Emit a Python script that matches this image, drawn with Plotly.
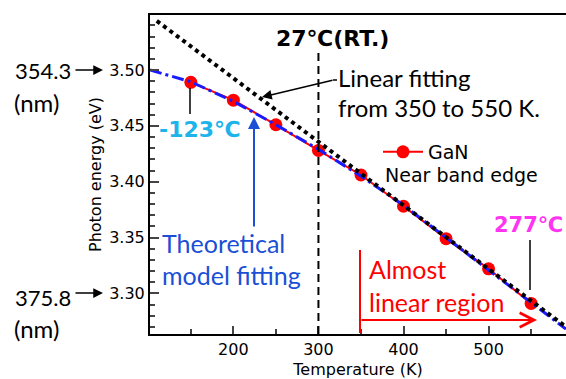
import plotly.graph_objects as go

# ---------------- data ----------------
temp_K = [150, 200, 250, 300, 350, 400, 450, 500, 550]
gan_energy_eV = [3.489, 3.473, 3.451, 3.428, 3.406, 3.378, 3.349, 3.322, 3.291]

model_T = [102, 150, 200, 250, 300, 350, 400, 450, 500, 550, 591]
model_E = [3.500, 3.4895, 3.472, 3.451, 3.429, 3.405, 3.379, 3.350, 3.321, 3.292, 3.268]

linfit_T = [110, 591]
linfit_E = [3.544, 3.270]

x_ticks = [200, 300, 400, 500]
y_ticks = [3.30, 3.35, 3.40, 3.45, 3.50]

# ---------------- layout geometry ----------------
W, H = 566, 379
L, R, T, B = 150, 566, 15, 334
X0, X1 = 102, 591
Y0, Y1 = 3.2636, 3.5493


def px(p):
    return (p - L) / (R - L)


def py(p):
    return (B - p) / (B - T)


ARIAL = "DejaVu Sans"
CALIBRI = "Lato"

fig = go.Figure()

fig.add_trace(go.Scatter(
    x=temp_K, y=gan_energy_eV, mode="lines+markers", name="GaN",
    line=dict(color="#ff0000", width=2),
    marker=dict(color="#ff0000", size=13),
    showlegend=True,
))
fig.add_trace(go.Scatter(
    x=model_T, y=model_E, mode="lines", showlegend=False,
    line=dict(color="#1a1aff", width=3, dash="12px,4px,3px,4px"),
))
fig.add_trace(go.Scatter(
    x=linfit_T, y=linfit_E, mode="lines", showlegend=False,
    line=dict(color="#000000", width=4, dash="4px,4px"),
))

shapes = [
    # RT vertical dashed line
    dict(type="line", xref="x", yref="paper", x0=300, x1=300, y0=0, y1=py(52),
         line=dict(color="black", width=2, dash="8px,5px")),
    # -123C pointer
    dict(type="line", xref="paper", yref="paper", x0=px(190), x1=px(190), y0=py(88), y1=py(114),
         line=dict(color="black", width=1.5)),
    # 277C pointer
    dict(type="line", xref="paper", yref="paper", x0=px(530), x1=px(530), y0=py(240), y1=py(290),
         line=dict(color="black", width=1.5)),
    # red vertical line (start of linear region)
    dict(type="line", xref="paper", yref="paper", x0=px(360), x1=px(360), y0=py(250), y1=py(333),
         line=dict(color="#ff0000", width=2)),
    # connector to "Linear fitting"
    dict(type="line", xref="paper", yref="paper", x0=px(333), x1=px(337), y0=py(80), y1=py(80),
         line=dict(color="black", width=1.5)),
]

ann = []


def text(x, y, s, size, color="black", font=CALIBRI, bold=False, xanchor="left"):
    ann.append(dict(xref="paper", yref="paper", x=px(x), y=py(y), text=("<b>%s</b>" % s) if bold else s,
                    showarrow=False, xanchor=xanchor, yanchor="middle",
                    font=dict(family=font, size=size, color=color)))


def arrow(x_tip, y_tip, x_tail, y_tail, color, width, head, size):
    ann.append(dict(xref="paper", yref="paper", x=px(x_tip), y=py(y_tip), text="",
                    showarrow=True, axref="pixel", ayref="pixel",
                    ax=x_tail - x_tip, ay=y_tail - y_tip,
                    arrowcolor=color, arrowwidth=width, arrowhead=head, arrowsize=size,
                    standoff=0, startstandoff=0))


text(332, 38, "27℃(RT.)", 22, font=ARIAL, bold=True, xanchor="center")
text(336, 77, "Linear fitting", 24)
text(336, 108, "from 350 to 550 K.", 24)
arrow(262, 97, 334, 80, "black", 1.5, 2, 1.3)

text(157, 129, "-123℃", 22, color="#1eb4ea", font=ARIAL, bold=True)
text(160, 243, "Theoretical", 25, color="#1a4fd6")
text(160, 275, "model fitting", 25, color="#1a4fd6")
arrow(254, 117, 254, 228, "#1a4fd6", 2, 2, 1.2)

text(565, 225, "277℃", 21, color="#ff33f0", font=ARIAL, bold=True, xanchor="right")
text(367, 269, "Almost", 25, color="#ff0000")
text(367, 302, "linear region", 25, color="#ff0000")
arrow(537, 320, 360, 320, "#ff0000", 2, 5, 1.4)

text(383, 175, "Near band edge", 19, font=ARIAL)

text(13, 70, "354.3", 22)
text(12, 102, "(nm)", 24)
arrow(103, 70, 74, 70, "black", 1.5, 2, 1.3)
text(13, 297, "375.8", 22)
text(12, 328, "(nm)", 24)
arrow(103, 293, 74, 293, "black", 1.5, 2, 1.3)

fig.update_layout(
    width=W, height=H,
    margin=dict(l=L, r=W - R, t=T, b=H - B, autoexpand=False),
    paper_bgcolor="white", plot_bgcolor="white",
    shapes=shapes, annotations=ann,
    showlegend=True,
    legend=dict(x=px(378), y=py(133), xanchor="left", yanchor="top",
                bgcolor="rgba(0,0,0,0)", itemwidth=40,
                font=dict(family=ARIAL, size=19, color="black")),
    xaxis=dict(range=[X0, X1], tickvals=x_ticks, ticks="inside", ticklen=8, tickwidth=1.5,
               showline=True, linecolor="black", linewidth=2, mirror=True, showgrid=False,
               zeroline=False, tickfont=dict(family=ARIAL, size=16, color="black"),
               minor=dict(dtick=50, tick0=0, ticks="inside", ticklen=5, tickwidth=1.5),
               title=dict(text="Temperature (K)", standoff=9,
                          font=dict(family=ARIAL, size=16, color="black"))),
    yaxis=dict(range=[Y0, Y1], tickvals=y_ticks, tickformat=".2f", ticks="inside", ticklen=9,
               tickwidth=1.5, showline=True, linecolor="black", linewidth=2, mirror=False,
               showgrid=False, zeroline=False,
               tickfont=dict(family=ARIAL, size=16, color="black"),
               minor=dict(dtick=0.01, tick0=0, ticks="inside", ticklen=5, tickwidth=1.5),
               title=dict(text="Photon energy (eV)", standoff=4,
                          font=dict(family=ARIAL, size=16, color="black"))),
)

fig.write_html("out.html", config={"displayModeBar": False},
               post_script="document.body.style.margin='0px';")
